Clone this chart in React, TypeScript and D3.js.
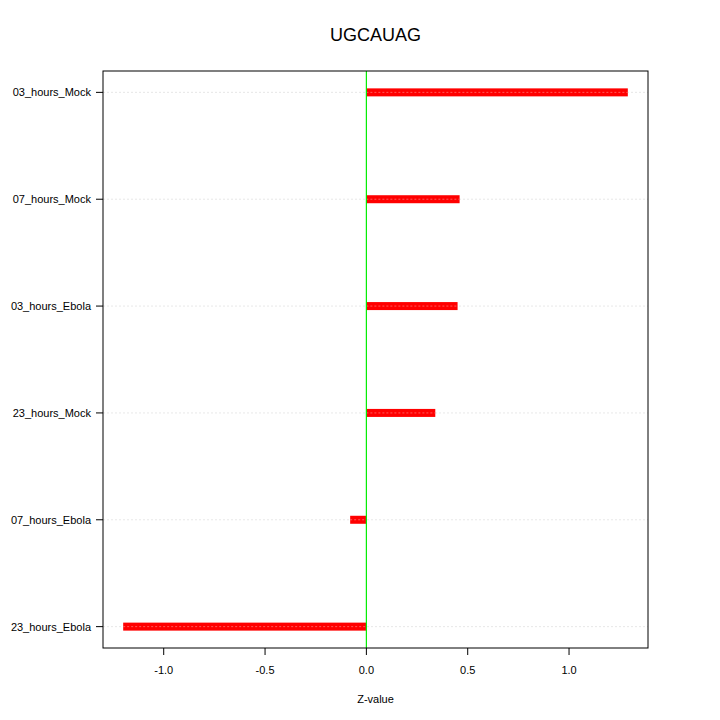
import React from "react";
import * as d3 from "d3";

const categories = ["03_hours_Mock", "07_hours_Mock", "03_hours_Ebola", "23_hours_Mock", "07_hours_Ebola", "23_hours_Ebola"];
const values = [1.29, 0.46, 0.45, 0.34, -0.08, -1.2];
const xTicks = [-1.0, -0.5, 0.0, 0.5, 1.0];
const title = "UGCAUAG";
const xLabel = "Z-value";

export default function App() {
  const W = 720, H = 720;
  const left = 103, right = 648, top = 71, bottom = 648;
  const x = d3.scaleLinear().domain([-1.2996, 1.3896]).range([left, right]);
  const n = categories.length;
  const y = d3.scaleLinear().domain([0.8, n + 0.2]).range([bottom, top]);
  const yPos = (i: number) => y(n - i);
  const font = "Liberation Sans, Arial, Helvetica, sans-serif";
  return (
    <svg width={W} height={H} style={{ position: "absolute", left: 0, top: 0, background: "#fff" }} fontFamily={font}>
      <rect x={0} y={0} width={W} height={H} fill="#fff" />
      <text x={(left + right) / 2} y={41} textAnchor="middle" fontSize={18} fill="#000">{title}</text>
      {categories.map((c, i) => (
        <line key={"g" + c} x1={left} x2={right} y1={yPos(i)} y2={yPos(i)} stroke="#dddddd" strokeWidth={0.7} strokeDasharray="2,2" />
      ))}
      {values.map((v, i) => (
        <rect key={"b" + i} x={Math.min(x(0), x(v))} y={yPos(i) - 4} width={Math.abs(x(v) - x(0))} height={8} fill="#ff0000" />
      ))}
      {categories.map((c, i) => (
        <line key={"g2" + c} x1={Math.min(x(0), x(values[i]))} x2={Math.max(x(0), x(values[i]))} y1={yPos(i)} y2={yPos(i)} stroke="#ff8080" strokeWidth={0.7} strokeDasharray="2,2" />
      ))}
      <line x1={x(0)} x2={x(0)} y1={top} y2={bottom} stroke="#00ee00" strokeWidth={1.2} />
      <rect x={left} y={top} width={right - left} height={bottom - top} fill="none" stroke="#000" strokeWidth={1} />
      {categories.map((c, i) => (
        <g key={"t" + c}>
          <line x1={left - 7} x2={left} y1={yPos(i)} y2={yPos(i)} stroke="#000" />
          <text x={left - 12} y={yPos(i) + 4} textAnchor="end" fontSize={11} fill="#000">{c}</text>
        </g>
      ))}
      {xTicks.map((t) => (
        <g key={"x" + t}>
          <line x1={x(t)} x2={x(t)} y1={bottom} y2={bottom + 7} stroke="#000" />
          <text x={x(t)} y={bottom + 26} textAnchor="middle" fontSize={11} fill="#000">{t.toFixed(1)}</text>
        </g>
      ))}
      <text x={(left + right) / 2} y={703} textAnchor="middle" fontSize={11} fill="#000">{xLabel}</text>
    </svg>
  );
}
